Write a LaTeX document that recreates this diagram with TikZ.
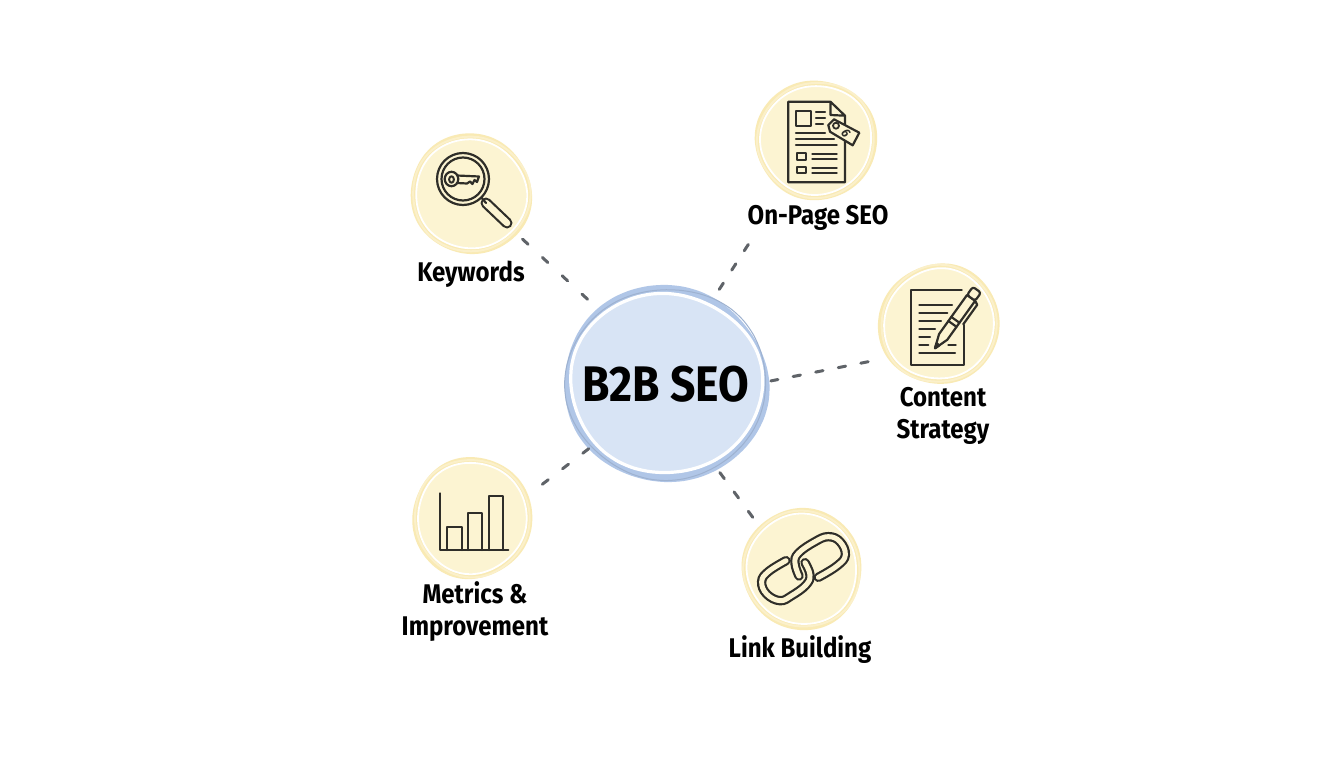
\documentclass[tikz,border=0pt]{standalone}
\usepackage{fontspec}
\setmainfont[FakeStretch=0.89]{Fira Sans}
\definecolor{discband}{HTML}{F9EAB4}
\definecolor{discfill}{HTML}{FCF4D2}
\definecolor{hubband}{HTML}{B0C6E7}
\definecolor{hubfill}{HTML}{D8E4F5}
\definecolor{linkgray}{HTML}{5F6368}
\definecolor{icondark}{HTML}{2F2E29}
\tikzset{
	linkdash/.style={linkgray, line width=3pt, line cap=round, dash pattern=on 7.5pt off 15.5pt},
	discnode/.style={circle, minimum size=120pt, inner sep=0pt, outer sep=0pt},
	hubnode/.style={circle, minimum size=196pt, inner sep=0pt, outer sep=0pt, font=\bfseries\fontsize{50}{54}\selectfont},
	labeltext/.style={align=center, text=black, font=\fontsize{27}{32}\selectfont\bfseries},
	iconline/.style={icondark, line width=2.2pt, line cap=round, line join=round},
	chainline/.style={icondark, line width=2.2pt, line cap=round, double=discfill, double distance=5pt}
}
%% wobbly ring: x, y, radius, phase
\newcommand{\wobble}[4]{plot[smooth cycle, domain=0:350, samples=36]
	({#1+#3*(1+0.012*sin(2*\x+#4)+0.010*sin(3*\x+2*#4)+0.005*sin(5*\x+3*#4))*cos(\x)},
	 {#2+#3*(1+0.012*sin(2*\x+#4)+0.010*sin(3*\x+2*#4)+0.005*sin(5*\x+3*#4))*sin(\x)})}
\newcommand{\sketchdisc}[3]{
	\fill[discband] \wobble{#1}{#2}{60.5}{#3};
	\draw[discband!70!white, line width=2pt] \wobble{#1}{#2}{58}{#3+70};
	\fill[discfill] \wobble{#1}{#2}{54.5}{#3+40};
	\draw[white, line width=1.8pt] \wobble{#1}{#2}{55}{#3+40};
}
\begin{document}
\begin{tikzpicture}[x=1pt, y=-1pt]
	\useasboundingbox (0,0) rectangle (1344,768);
	\fill[white] (0,0) rectangle (1344,768);

	%% Discs
	\begin{scope}[shift={(666,384)}, xscale=1.03]
		\fill[hubband] \wobble{0}{0}{99}{20};
		\draw[hubband!90!black, line width=1pt] \wobble{0}{0}{96.5}{110};
	\end{scope}
	\begin{scope}[shift={(666,383)}, xscale=1.05]
		\fill[hubfill] \wobble{0}{0}{90}{60};
		\draw[white, line width=3.2pt] \wobble{0}{0}{90.5}{60};
	\end{scope}
	\sketchdisc{471}{194}{10}
	\sketchdisc{816}{140}{80}
	\sketchdisc{939}{324}{150}
	\sketchdisc{472}{518}{220}
	\sketchdisc{802}{569}{300}

	%% Nodes
	\node[hubnode] (hub) at (666,384) {B2B SEO};
	\node[discnode] (keywords) at (471,194) {};
	\node[discnode] (onpage) at (816,140) {};
	\node[discnode] (content) at (939,324) {};
	\node[discnode] (metrics) at (472,518) {};
	\node[discnode] (linkbuilding) at (802,569) {};

	%% Labels
	\node[labeltext] (keywordslabel) at (471,274) {Keywords};
	\node[labeltext] (onpagelabel) at (818,218) {On-Page SEO};
	\node[labeltext] (contentlabel) at (943,416) {Content\\Strategy};
	\node[labeltext] (metricslabel) at (475,612) {Metrics \&\\Improvement};
	\node[labeltext] (linkbuildinglabel) at (800,650) {Link Building};

	%% Connectors
	\draw[linkdash, dash pattern=on 7.5pt off 19.5pt, shorten <=8.5pt] (keywords.-41) -- (hub.132);
	\draw[linkdash, shorten <=64.5pt, shorten >=9pt] (onpage.237.6) -- (hub.61.7);
	\draw[linkdash, shorten <=21.5pt, shorten >=7pt] (content.214) -- (hub.1.6);
	\draw[linkdash, dash pattern=on 7.5pt off 18pt, shorten <=18.5pt] (metrics.22.5) -- (hub.220.6);
	\draw[linkdash, dash pattern=on 7.5pt off 16.5pt, shorten <=11.5pt, shorten >=4pt] (linkbuilding.135.7) -- (hub.-59.7);

	%% Keywords icon
	\begin{scope}
		\draw[icondark, line width=11pt, line cap=round] (486,203) -- (507,223);
		\draw[discfill, line width=6.6pt, line cap=round] (486,203) -- (507,223);
		\draw[iconline] (481,197) -- (486,203);
		\fill[discfill] (463,179) circle (26);
		\draw[iconline] (463,179) circle (26);
		\draw[iconline] (463,179) circle (21.5);
		\draw[iconline] (451.5,179) ellipse (6.8 and 7.2);
		\draw[iconline, line width=2pt] (451.5,179.5) ellipse (2.4 and 3.2);
		\draw[iconline] (457,175.5) -- (479,176.5) -- (477,182) -- (474.5,180) -- (472.5,184) -- (470,181.5) -- (467,183.5) -- (457,183);
	\end{scope}

	%% On-Page icon
	\begin{scope}
		\draw[iconline] (830.5,101.7) -- (788.3,101.7) -- (788.3,182.3) -- (845,182.3) -- (845,115.7) -- (830.5,101.7) -- (830.5,115) -- (845,115.7);
		\draw[iconline] (796,110.7) rectangle (810.7,125.7);
		\draw[iconline] (816,112.3) -- (825,112.3);
		\draw[iconline] (816,118.3) -- (825,118.3);
		\draw[iconline] (816,124) -- (823,124);
		\draw[iconline] (796,132.7) -- (825,132.7);
		\draw[iconline] (796,139.3) -- (834,139.3);
		\draw[iconline] (796,144.7) -- (836.7,144.7);
		\draw[iconline] (797.3,153.3) rectangle (806,160);
		\draw[iconline] (797.3,166.7) rectangle (806,173.3);
		\draw[iconline] (812.3,154.3) -- (836.7,154.3);
		\draw[iconline] (812.3,159.3) -- (836.7,159.3);
		\draw[iconline] (812.3,168.3) -- (836.7,168.3);
		\draw[iconline] (812.3,173) -- (836.7,173);
		\draw[iconline, fill=discfill] (834,119.3) -- (859.3,132.7) -- (852.7,145.3) -- (830,131.7) -- (828.3,125) -- cycle;
		\draw[iconline, line width=1.8pt] (836,125.7) circle (3);
		\node[icondark, rotate=-62, inner sep=0pt, font=\bfseries\fontsize{13}{13}\selectfont] (tagmark) at (846,133.5) {6};
	\end{scope}

	%% Content icon
	\begin{scope}
		\draw[iconline] (961.7,290) -- (910.7,290) -- (910.7,365) -- (964,365) -- (964,325);
		\draw[iconline] (919.3,305.3) -- (952,305.3);
		\draw[iconline] (919.3,313.3) -- (947.3,313.3);
		\draw[iconline] (919.3,321.3) -- (941,321.3);
		\draw[iconline] (919.3,329.3) -- (935,329.3);
		\draw[iconline] (919.3,337.3) -- (930,337.3);
		\draw[iconline] (919.3,345.3) -- (928.3,345.3);
		\draw[iconline] (948.3,345.3) -- (955.7,345.3);
		\draw[iconline] (919.3,353.3) -- (955,353.3);
	\end{scope}
	\begin{scope}[shift={(935,348.3)}, rotate=54.4]
		\draw[iconline, fill=discfill] (0,0) -- (14,-5) -- (62,-5) -- (62,5) -- (14,5) -- cycle;
		\draw[iconline, fill=discfill, rounded corners=2.5pt] (62,-5) -- (72,-5) -- (72,5) -- (62,5) -- cycle;
		\draw[iconline, fill=icondark] (0,0) -- (5,-1.8) -- (5,1.8) -- cycle;
		\draw[iconline] (30,-5) -- (30,5);
		\draw[iconline] (35,-5) -- (35,5);
		\draw[iconline] (36,9) -- (60,9) -- (62,5);
	\end{scope}

	%% Metrics icon
	\begin{scope}
		\draw[iconline] (439.7,493.3) -- (439.7,550) -- (508.3,550);
		\draw[iconline] (447.3,550) -- (447.3,526.7) -- (461.7,526.7) -- (461.7,550);
		\draw[iconline] (468,550) -- (468,512.7) -- (482.3,512.7) -- (482.3,550);
		\draw[iconline] (488.7,550) -- (488.7,496) -- (502.7,496) -- (502.7,550);
	\end{scope}

	%% Link icon
	\begin{scope}[shift={(730,500)}, scale=1/3]
		\draw[chainline] plot[smooth, tension=0.7] coordinates {(265,232) (322,197) (346,165) (330,125) (295,110) (255,125) (205,160) (195,190) (207,228)};
		\draw[chainline] plot[smooth, tension=0.7] coordinates {(168,182) (115,215) (95,245) (110,282) (150,302) (185,287) (228,255) (240,225) (225,188)};
	\end{scope}
\end{tikzpicture}
\end{document}
